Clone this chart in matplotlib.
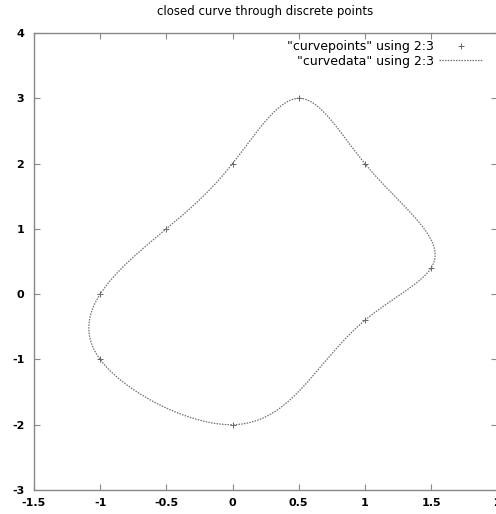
import numpy as np
import matplotlib
matplotlib.use("Agg")
import matplotlib.pyplot as plt

# discrete control points (columns 2:3 of curvepoints)
px = [0.0, 0.5, 1.0, 1.5, 1.0, 0.0, -1.0, -1.0, -0.5]
py = [2.0, 3.0, 2.0, 0.4, -0.4, -2.0, -1.0, 0.0, 1.0]

xticks = [-1.5, -1, -0.5, 0, 0.5, 1, 1.5, 2]
xtick_labels = ["-1.5", "-1", "-0.5", "0", "0.5", "1", "1.5", "2"]
yticks = [-3, -2, -1, 0, 1, 2, 3, 4]


def closed_spline(x, y, samples=60):
    """Closed cubic spline through (x, y), chord-length parametrised."""
    x = np.asarray(x, float)
    y = np.asarray(y, float)
    n = len(x)
    h = np.hypot(np.roll(x, -1) - x, np.roll(y, -1) - y)  # h[i]: i -> i+1

    def second_derivs(v):
        A = np.zeros((n, n))
        rhs = np.zeros(n)
        for i in range(n):
            hp, hc = h[i - 1], h[i]
            A[i, (i - 1) % n] = hp
            A[i, i] = 2 * (hp + hc)
            A[i, (i + 1) % n] = hc
            rhs[i] = 6 * ((v[(i + 1) % n] - v[i]) / hc - (v[i] - v[i - 1]) / hp)
        return np.linalg.solve(A, rhs)

    Mx, My = second_derivs(x), second_derivs(y)
    xs, ys = [], []
    for i in range(n):
        j = (i + 1) % n
        hi = h[i]
        s = np.linspace(0, hi, samples, endpoint=False)
        a = (hi - s) / hi
        b = s / hi
        for v, M, out in ((x, Mx, xs), (y, My, ys)):
            out.append(a * v[i] + b * v[j]
                       + ((a**3 - a) * M[i] + (b**3 - b) * M[j]) * hi**2 / 6)
    xs = np.concatenate(xs)
    ys = np.concatenate(ys)
    return np.append(xs, xs[0]), np.append(ys, ys[0])


cx, cy = closed_spline(px, py)

plt.rcParams["font.family"] = ["DejaVu Sans"]
plt.rcParams["axes.unicode_minus"] = False
fig = plt.figure(figsize=(4.96, 5.14), dpi=100)
ax = fig.add_axes([0.0685, 0.0467, 0.934, 0.889])

ax.plot(px, py, linestyle="none", marker="+", markersize=5, color="#666666",
        markeredgewidth=0.7, label='"curvepoints" using 2:3')
ax.plot(cx, cy, linestyle=(0, (1.2, 1.0)), linewidth=0.9, color="#707070",
        label='"curvedata" using 2:3')

ax.set_xlim(-1.5, 2)
ax.set_ylim(-3, 4)
ax.set_xticks(xticks)
ax.set_xticklabels(xtick_labels)
ax.set_yticks(yticks)
ax.tick_params(direction="in", length=4, width=0.8, color="#888888",
               labelsize=8, top=True, right=True)
ax.tick_params(axis="x", pad=6)
ax.tick_params(axis="y", pad=7)
for lbl in ax.get_xticklabels() + ax.get_yticklabels():
    lbl.set_fontweight("bold")
for s in ax.spines.values():
    s.set_color("#888888")
    s.set_linewidth(1.0)

ax.set_title("closed curve through discrete points", fontsize=8.5, pad=13)

leg = ax.legend(loc="upper right", bbox_to_anchor=(0.968, 0.984), frameon=False,
                fontsize=9, markerfirst=False, handlelength=3.5,
                handletextpad=0.4, labelspacing=0.1, borderaxespad=0.0,
                borderpad=0.0)
for t in leg.get_texts():
    t.set_horizontalalignment("right")
leg._legend_box.align = "right"

fig.savefig("out.png", dpi=100)
